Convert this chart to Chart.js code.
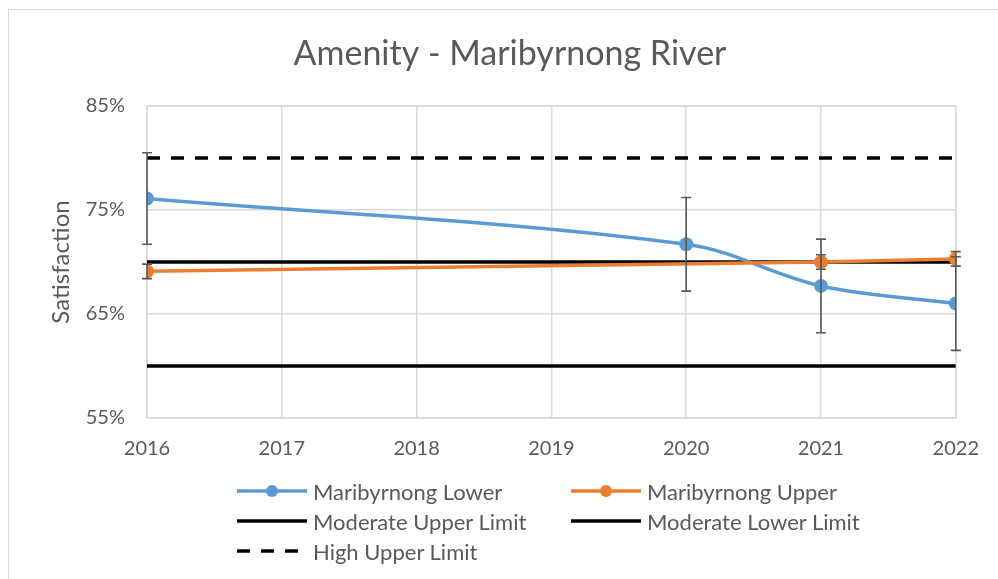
<!DOCTYPE html>
<html>
<head>
<meta charset="utf-8">
<script src="https://cdn.jsdelivr.net/npm/chart.js@4.4.1/dist/chart.umd.min.js"></script>
<style>
  html, body { margin: 0; padding: 0; background: #fff; }
  body { width: 998px; height: 579px; position: relative; overflow: hidden; font-family: Lato, "Open Sans", sans-serif; }
  #frame { position: absolute; left: 8px; top: 9px; width: 1100px; height: 700px; border: 1px solid #d9d9d9; box-sizing: border-box; }
  #wrap { position: absolute; left: 0; top: 0; width: 998px; height: 579px; }
  #legend { position: absolute; left: 0; top: 0; width: 998px; height: 579px; pointer-events: none; }
  .item { position: absolute; height: 30px; display: flex; align-items: center; color: #595959; font-size: 22px; white-space: nowrap; }
  .item svg { margin-right: 6px; }
</style>
</head>
<body>
<div id="frame"></div>
<div id="wrap"><canvas id="c" width="998" height="579"></canvas></div>
<div id="legend"></div>
<script>
// ---- data ----
const years = [2016, 2017, 2018, 2019, 2020, 2021, 2022];
const lowerYears = [2016, 2020, 2021, 2022];
const lowerValues = [76.1, 71.7, 67.7, 66.0];
const lowerErrors = [4.4, 4.5, 4.5, 4.5];
const upperYears = [2016, 2021, 2022];
const upperValues = [69.1, 70.0, 70.3];
const upperErrors = [0.7, 0.7, 0.7];
const moderateUpper = [70, 70];
const moderateLower = [60, 60];
const highUpper = [80, 80];
const limitYears = [2016, 2022];
const yTicks = [55, 65, 75, 85];
const seriesNames = ['Maribyrnong Lower', 'Maribyrnong Upper', 'Moderate Upper Limit', 'Moderate Lower Limit', 'High Upper Limit'];

const BLUE = '#5B9BD5', ORANGE = '#ED7D31', BLACK = '#000000', GREY = '#595959';
const FONT = 'Lato, "Open Sans", sans-serif';

const pts = (xs, ys) => xs.map((x, i) => ({ x: x, y: ys[i] }));

const errorBars = {
  id: 'errorBars',
  afterDatasetsDraw(chart) {
    const ctx = chart.ctx;
    const xs = chart.scales.x, ys = chart.scales.y;
    ctx.save();
    ctx.strokeStyle = GREY;
    ctx.lineWidth = 1.6;
    const cap = 5;
    chart.data.datasets.forEach(ds => {
      if (!ds.errors) return;
      ds.data.forEach((p, i) => {
        const e = ds.errors[i];
        const px = xs.getPixelForValue(p.x);
        const t = ys.getPixelForValue(p.y + e);
        const b = ys.getPixelForValue(p.y - e);
        ctx.beginPath();
        ctx.moveTo(px, t); ctx.lineTo(px, b);
        ctx.moveTo(px - cap, t); ctx.lineTo(px + cap, t);
        ctx.moveTo(px - cap, b); ctx.lineTo(px + cap, b);
        ctx.stroke();
      });
    });
    ctx.restore();
  }
};

const plotBorder = {
  id: 'plotBorder',
  beforeDatasetsDraw(chart) {
    const a = chart.chartArea, ctx = chart.ctx;
    ctx.save();
    ctx.strokeStyle = '#d9d9d9';
    ctx.lineWidth = 1.5;
    ctx.strokeRect(a.left, a.top, a.right - a.left, a.bottom - a.top);
    ctx.restore();
  }
};

const datasets = [
  { label: seriesNames[0], data: pts(lowerYears, lowerValues), errors: lowerErrors, borderColor: BLUE, backgroundColor: BLUE,
    borderWidth: 3.5, pointRadius: 7, pointHoverRadius: 7, pointBorderWidth: 0, tension: 0.35, order: 1 },
  { label: seriesNames[1], data: pts(upperYears, upperValues), errors: upperErrors, borderColor: ORANGE, backgroundColor: ORANGE,
    borderWidth: 3.5, pointRadius: 7, pointHoverRadius: 7, pointBorderWidth: 0, tension: 0, order: 0 },
  { label: seriesNames[2], data: pts(limitYears, moderateUpper), borderColor: BLACK, borderWidth: 3.5, pointRadius: 0, order: 2 },
  { label: seriesNames[3], data: pts(limitYears, moderateLower), borderColor: BLACK, borderWidth: 3.5, pointRadius: 0, order: 2 },
  { label: seriesNames[4], data: pts(limitYears, highUpper), borderColor: BLACK, borderWidth: 3.5, borderDash: [13, 11], pointRadius: 0, order: 2 }
];

const chart = new Chart(document.getElementById('c'), {
  type: 'line',
  data: { datasets: datasets },
  options: {
    responsive: false,
    animation: false,
    layout: { padding: { left: 22, right: 0, top: 0, bottom: 116 } },
    plugins: {
      legend: { display: false },
      tooltip: { enabled: false },
      title: { display: true, text: 'Amenity - Maribyrnong River', color: GREY,
        font: { family: FONT, size: 34, weight: 'normal' }, padding: { top: 34, bottom: 31.2 } }
    },
    scales: {
      x: {
        type: 'linear', min: years[0], max: years[years.length - 1],
        afterBuildTicks: s => { s.ticks = years.map(v => ({ value: v })); },
        ticks: { color: GREY, font: { family: FONT, size: 20 }, padding: 19, callback: v => String(v), maxRotation: 0 },
        grid: { color: '#d9d9d9', lineWidth: 1.5, drawTicks: false },
        border: { display: false },
        afterFit: s => { s.height = 45; }
      },
      y: {
        min: 55, max: 85,
        afterBuildTicks: s => { s.ticks = yTicks.map(v => ({ value: v })); },
        ticks: { color: GREY, font: { family: FONT, size: 20 }, padding: 22, callback: v => v + '%' },
        grid: { color: '#d9d9d9', lineWidth: 1.5, drawTicks: false },
        border: { display: false },
        title: { display: true, text: 'Satisfaction', color: GREY, font: { family: FONT, size: 24 }, padding: { top: 25, bottom: 0 } },
        afterFit: s => { s.width = 125; }
      },
      yRight: {
        position: 'right', display: true,
        ticks: { display: false }, grid: { display: false, drawTicks: false }, border: { display: false },
        afterFit: s => { s.width = 41; }
      }
    }
  },
  plugins: [plotBorder, errorBars]
});

// ---- legend (HTML, built from dataset styles) ----
const legendPos = [[237, 476], [571, 476], [237, 506], [571, 506], [237, 536]];
const legend = document.getElementById('legend');
datasets.forEach((ds, i) => {
  const d = document.createElement('div');
  d.className = 'item';
  d.style.left = legendPos[i][0] + 'px';
  d.style.top = legendPos[i][1] + 'px';
  const dash = ds.borderDash ? ` stroke-dasharray="${ds.borderDash.join(' ')}"` : '';
  const marker = ds.pointRadius ? `<circle cx="35" cy="15" r="6" fill="${ds.borderColor}"/>` : '';
  d.innerHTML = `<svg width="70" height="30"><line x1="0" y1="15" x2="70" y2="15" stroke="${ds.borderColor}" stroke-width="3.5"${dash}/>${marker}</svg><span>${ds.label}</span>`;
  legend.appendChild(d);
});
</script>
</body>
</html>
